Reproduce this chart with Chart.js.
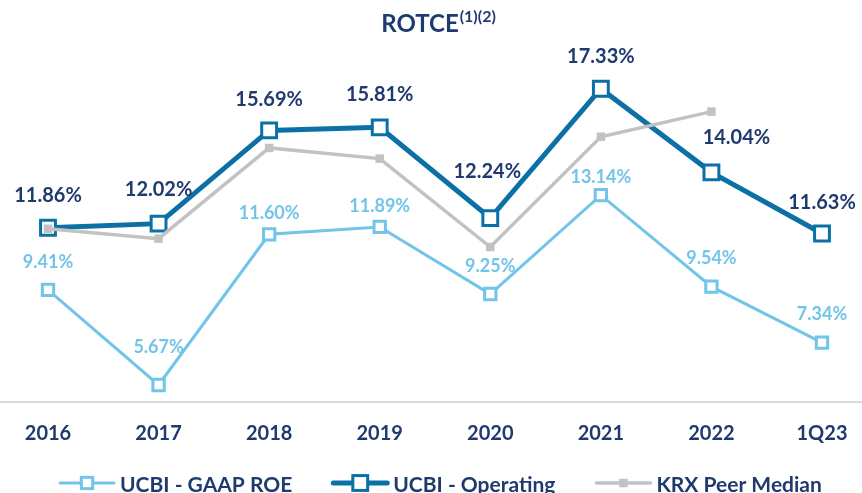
<!DOCTYPE html>
<html>
<head>
<meta charset="utf-8">
<script src="https://cdn.jsdelivr.net/npm/chart.js@4/dist/chart.umd.min.js"></script>
<style>
  html, body { margin: 0; padding: 0; background: #fff; }
  #wrap { width: 862px; height: 493px; }
</style>
</head>
<body>
<div id="wrap"><canvas id="chart-rotce"></canvas></div>
<script>
/* ============================================================
   DATA
============================================================ */
const categories = ['2016', '2017', '2018', '2019', '2020', '2021', '2022', '1Q23'];
const gaapRoe = [9.41, 5.67, 11.60, 11.89, 9.25, 13.14, 9.54, 7.34];
const operating = [11.86, 12.02, 15.69, 15.81, 12.24, 17.33, 14.04, 11.63];
const peerMedian = [11.82, 11.43, 15.0, 14.58, 11.1, 15.44, 16.43, null];

const NAVY = '#1F3A6F';
const DARK_BLUE = '#0B70A5';
const LIGHT_BLUE = '#72C4E9';
const GREY = '#C2C2C2';
const FONT = 'Lato, "Open Sans", sans-serif';

// label placement (pixel nudges from the point)
const opLabelDy = [-32, -34, -31, -33, -47, -32, -35, -31];
const opLabelDx = [0, 0, 0, 0, -3, 0, 25, 0];
const gaapLabelDy = [-28, -38, -21, -21, -28, -18, -28, -28];

/* ============================================================
   PLUGIN: title, axis line, value labels, legend
============================================================ */
const rotcePlugin = {
  id: 'rotce',
  beforeDatasetsDraw(chart) {
    const { ctx, chartArea } = chart;
    ctx.save();
    ctx.strokeStyle = '#D9D9D9';
    ctx.lineWidth = 2;
    ctx.beginPath();
    ctx.moveTo(0, chartArea.bottom);
    ctx.lineTo(chart.width, chartArea.bottom);
    ctx.stroke();
    ctx.restore();
  },
  afterDatasetsDraw(chart) {
    const { ctx } = chart;
    ctx.save();

    // title with superscript
    ctx.fillStyle = NAVY;
    ctx.textBaseline = 'alphabetic';
    ctx.font = 'bold 24px ' + FONT;
    const main = 'ROTCE';
    const wMain = ctx.measureText(main).width;
    ctx.font = 'bold 16px ' + FONT;
    const sup = '(1)(2)';
    const wSup = ctx.measureText(sup).width;
    const tx = 438 - (wMain + wSup) / 2;
    ctx.font = 'bold 24px ' + FONT;
    ctx.textAlign = 'left';
    ctx.fillText(main, tx, 32);
    ctx.font = 'bold 16px ' + FONT;
    ctx.fillText(sup, tx + wMain + 1, 22);

    // value labels
    ctx.textAlign = 'center';
    ctx.textBaseline = 'middle';
    ctx.font = 'bold 20px ' + FONT;
    const opMeta = chart.getDatasetMeta(1);
    ctx.fillStyle = NAVY;
    opMeta.data.forEach((pt, i) => {
      ctx.fillText(operating[i].toFixed(2) + '%', pt.x + opLabelDx[i], pt.y + opLabelDy[i]);
    });
    const gMeta = chart.getDatasetMeta(0);
    ctx.fillStyle = LIGHT_BLUE;
    ctx.font = 'bold 18px ' + FONT;
    gMeta.data.forEach((pt, i) => {
      ctx.fillText(gaapRoe[i].toFixed(2) + '%', pt.x, pt.y + gaapLabelDy[i]);
    });

    // legend
    let x = 60;
    const ly = 483;
    ctx.font = 'bold 21px ' + FONT;
    ctx.textAlign = 'left';
    ctx.textBaseline = 'alphabetic';
    chart.data.datasets.forEach(ds => {
      ctx.strokeStyle = ds.borderColor;
      ctx.lineWidth = ds.borderWidth;
      ctx.lineCap = 'round';
      ctx.beginPath();
      ctx.moveTo(x, ly);
      ctx.lineTo(x + 54, ly);
      ctx.stroke();
      const s = ds.pointRadius * Math.SQRT1_2;
      ctx.fillStyle = ds.pointBackgroundColor;
      ctx.fillRect(x + 27 - s, ly - s, 2 * s, 2 * s);
      if (ds.pointBorderWidth) {
        ctx.strokeStyle = ds.pointBorderColor;
        ctx.lineWidth = ds.pointBorderWidth;
        ctx.strokeRect(x + 27 - s, ly - s, 2 * s, 2 * s);
      }
      ctx.fillStyle = NAVY;
      ctx.fillText(ds.label, x + 60, 492);
      x += 60 + ctx.measureText(ds.label).width + 41;
    });
    ctx.restore();
  }
};

/* ============================================================
   CHART
============================================================ */
function renderRotceChart() {
  const ctx = document.getElementById('chart-rotce');
  new Chart(ctx, {
    type: 'line',
    data: {
      labels: categories,
      datasets: [
        {
          label: 'UCBI - GAAP ROE', data: gaapRoe, order: 2,
          borderColor: LIGHT_BLUE, borderWidth: 3,
          pointStyle: 'rect', pointRadius: 8, pointBorderWidth: 3,
          pointBorderColor: LIGHT_BLUE, pointBackgroundColor: '#fff'
        },
        {
          label: 'UCBI - Operating', data: operating, order: 1,
          borderColor: DARK_BLUE, borderWidth: 5,
          pointStyle: 'rect', pointRadius: 10.5, pointBorderWidth: 3,
          pointBorderColor: DARK_BLUE, pointBackgroundColor: '#fff'
        },
        {
          label: 'KRX Peer Median', data: peerMedian, order: 0,
          borderColor: GREY, borderWidth: 3.5,
          pointStyle: 'rect', pointRadius: 6, pointBorderWidth: 0,
          pointBorderColor: GREY, pointBackgroundColor: GREY
        }
      ]
    },
    options: {
      responsive: true, maintainAspectRatio: false, animation: false,
      layout: { padding: { left: 48, right: 40, top: 59, bottom: 0 } },
      plugins: { legend: { display: false }, tooltip: { enabled: false }, title: { display: false } },
      scales: {
        x: {
          offset: false,
          grid: { display: false, drawTicks: false },
          border: { display: false },
          ticks: { color: NAVY, font: { family: FONT, size: 20, weight: 'bold' }, padding: 20, maxRotation: 0 },
          afterFit: s => { s.height = 91; s.paddingLeft = 0; s.paddingRight = 0; }
        },
        y: { display: false, min: 5, max: 18.5 }
      }
    },
    plugins: [rotcePlugin]
  });
}

renderRotceChart();
</script>
</body>
</html>
